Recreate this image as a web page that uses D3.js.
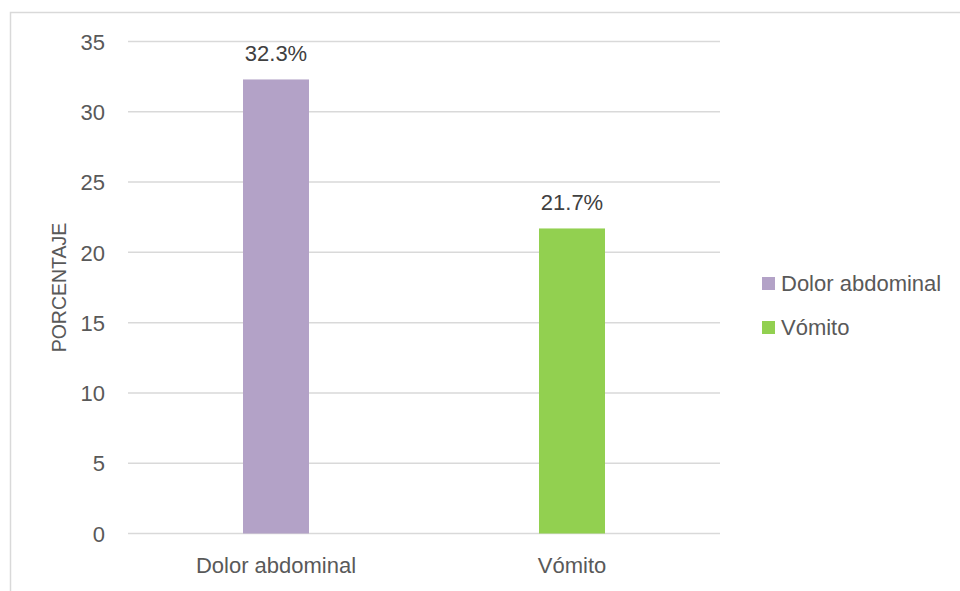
<!DOCTYPE html>
<html>
<head>
<meta charset="utf-8">
<script src="https://cdn.jsdelivr.net/npm/d3@7"></script>
<style>
  html, body { margin: 0; padding: 0; background: #fff; }
  svg { display: block; font-family: "Liberation Sans", Arial, sans-serif; }
</style>
</head>
<body>
<svg id="chart" width="960" height="591"></svg>
<script>
const categories = ["Dolor abdominal", "Vómito"];
const values = [32.3, 21.7];
const colors = ["#b3a2c7", "#92d050"];
const yTicks = [0, 5, 10, 15, 20, 25, 30, 35];
const yTitle = "PORCENTAJE";

const svg = d3.select("#chart");
const W = 960, H = 591;
const plot = { left: 128, right: 720, top: 41.5, bottom: 533.5 };

// outer border
svg.append("rect")
  .attr("x", 10.5).attr("y", 12.5)
  .attr("width", W).attr("height", H)
  .attr("fill", "none").attr("stroke", "#d9d9d9").attr("stroke-width", 1.5);

const x = d3.scaleBand()
  .domain(categories)
  .range([plot.left, plot.right])
  .paddingInner(0.777)
  .paddingOuter(0.3885);

const y = d3.scaleLinear().domain([0, 35]).range([plot.bottom, plot.top]);

// gridlines
svg.append("g")
  .selectAll("line")
  .data(yTicks)
  .join("line")
  .attr("x1", plot.left).attr("x2", plot.right)
  .attr("y1", d => y(d)).attr("y2", d => y(d))
  .attr("stroke", "#d9d9d9").attr("stroke-width", 1.5);

// y axis labels
const yAxis = d3.axisLeft(y).tickValues(yTicks).tickSize(0).tickPadding(0);
const gy = svg.append("g").attr("transform", `translate(105,0)`).call(yAxis);
gy.select(".domain").remove();
gy.selectAll("text")
  .attr("fill", "#595959")
  .style("font-size", "22px")
  .attr("dy", "0.35em");

// x axis labels
const xAxis = d3.axisBottom(x).tickSize(0).tickPadding(0);
const gx = svg.append("g").attr("transform", `translate(0,${plot.bottom})`).call(xAxis);
gx.select(".domain").remove();
gx.selectAll("text")
  .attr("fill", "#595959")
  .style("font-size", "22px")
  .attr("dy", null)
  .attr("y", 39);

// bars
const data = categories.map((c, i) => ({ c, v: values[i], col: colors[i] }));
svg.append("g")
  .selectAll("rect")
  .data(data)
  .join("rect")
  .attr("x", d => x(d.c))
  .attr("width", x.bandwidth())
  .attr("y", d => y(d.v))
  .attr("height", d => y(0) - y(d.v))
  .attr("fill", d => d.col);

// data labels
svg.append("g")
  .selectAll("text")
  .data(data)
  .join("text")
  .attr("x", d => x(d.c) + x.bandwidth() / 2)
  .attr("y", d => y(d.v) - 18)
  .attr("text-anchor", "middle")
  .attr("fill", "#404040")
  .style("font-size", "22px")
  .text(d => d.v.toFixed(1) + "%");

// y title
svg.append("text")
  .attr("transform", `translate(66,${(plot.top + plot.bottom) / 2}) rotate(-90)`)
  .attr("text-anchor", "middle")
  .attr("fill", "#595959")
  .style("font-size", "19.5px")
  .text(yTitle);

// legend
const lg = svg.append("g");
data.forEach((d, i) => {
  const ly = 283 + i * 44;
  lg.append("rect")
    .attr("x", 762).attr("y", ly - 6)
    .attr("width", 13).attr("height", 13)
    .attr("fill", d.col);
  lg.append("text")
    .attr("x", 781).attr("y", ly)
    .attr("dy", "0.35em")
    .attr("fill", "#595959")
    .style("font-size", "22px")
    .text(d.c);
});
</script>
</body>
</html>
